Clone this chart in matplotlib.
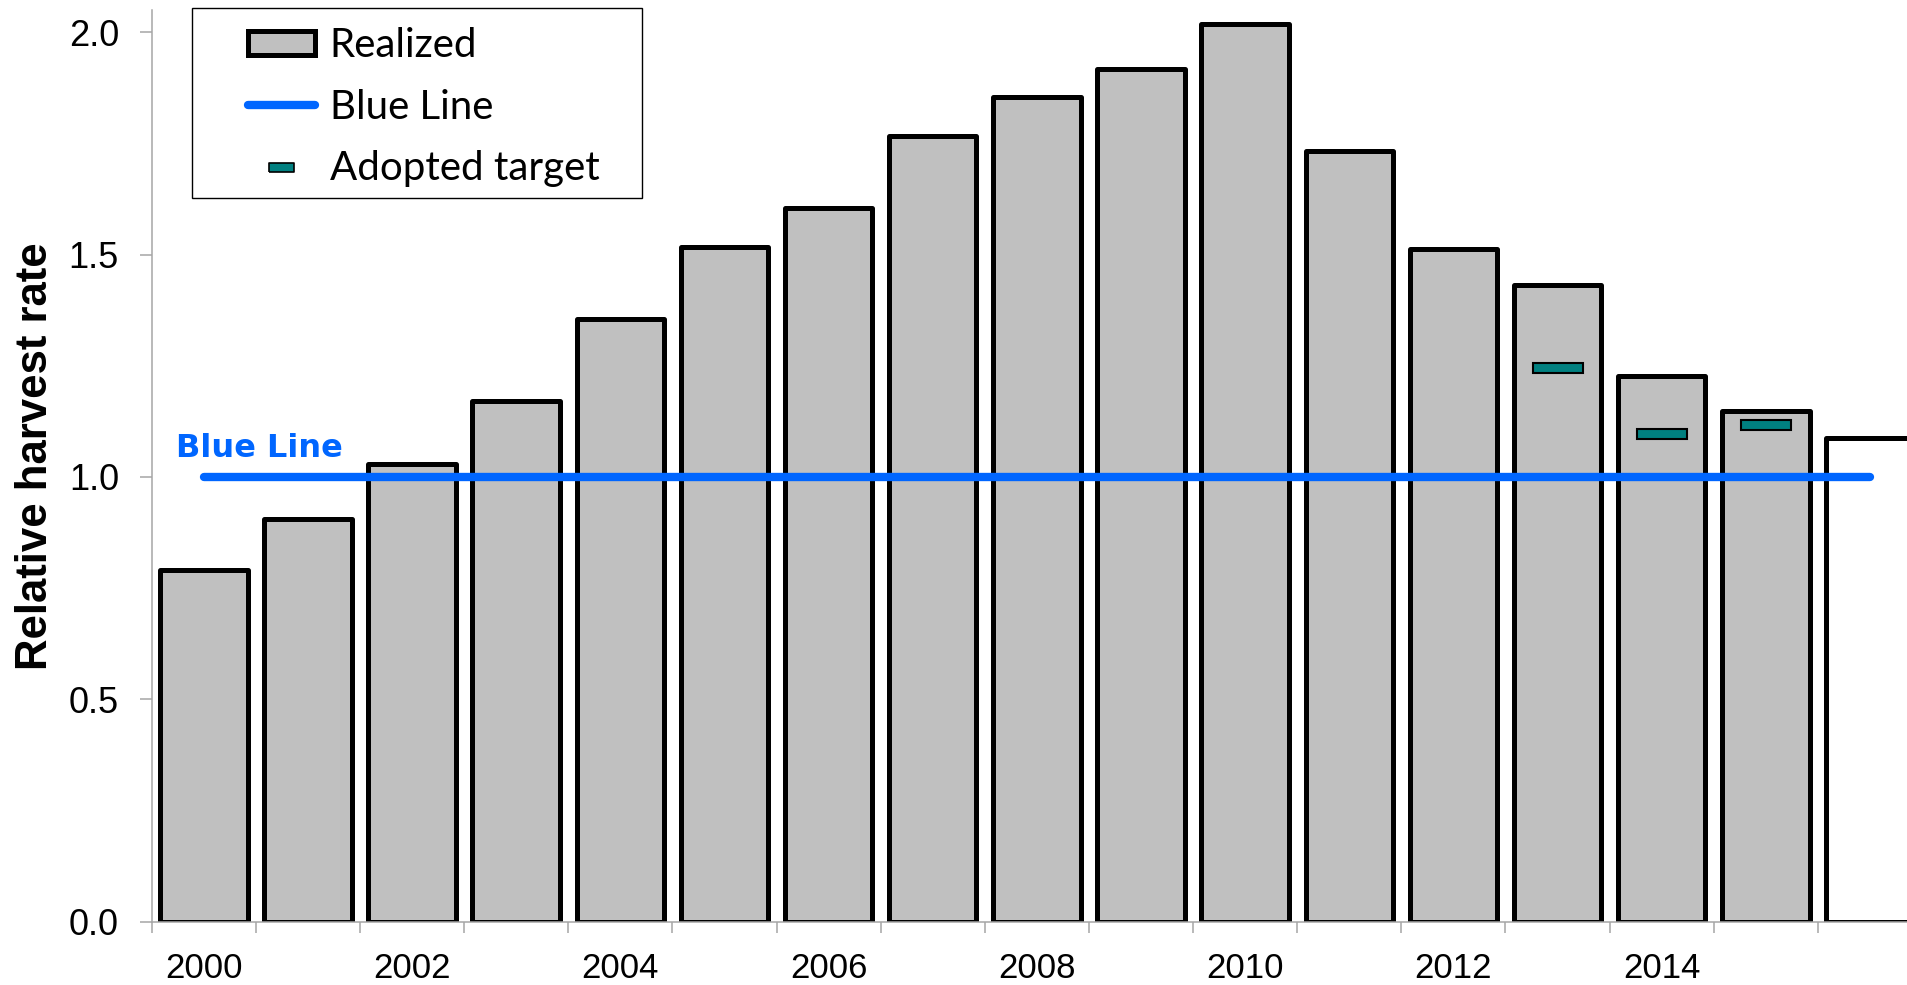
import matplotlib
matplotlib.use("Agg")
import matplotlib.pyplot as plt
from matplotlib.patches import Patch, Rectangle
from matplotlib.lines import Line2D

# relative harvest rate per year (last year still open)
years = list(range(2000, 2017))
realized = [0.79, 0.905, 1.03, 1.17, 1.355, 1.517, 1.605, 1.767, 1.855, 1.917,
            2.019, 1.734, 1.512, 1.432, 1.226, 1.148, 1.088]
open_year = 2016

target_years = [2013, 2014, 2015]
targets = [1.246, 1.097, 1.117]

blue_line = 1.0
label_years = list(range(2000, 2015, 2))

GRAY = "#C0C0C0"
TEAL = "#008080"
BLUE = "#0066FF"
AXIS = "#A6A6A6"

W, H = 1908, 985
fig = plt.figure(figsize=(W / 100, H / 100), dpi=100)
left, right, bottom, top = 151.7, 1922.0, 921.7, 10.0
ax = fig.add_axes([left / W, 1 - bottom / H, (right - left) / W, (bottom - top) / H])

fills = ["white" if y == open_year else GRAY for y in years]
ax.bar(years, realized, width=0.84, color=fills, edgecolor="black",
       linewidth=3.6, joinstyle="round", zorder=2)

ax.plot([years[0], years[-1]], [blue_line, blue_line], color=BLUE, lw=6,
        solid_capstyle="round", zorder=3)
ax.text(1999.73, 1.065, "Blue Line", color=BLUE, fontsize=23,
        fontweight="bold", family="DejaVu Sans", ha="left", va="center")

th = 0.0225
ax.bar(target_years, [th] * len(targets), bottom=[t - th / 2 for t in targets],
       width=0.48, color=TEAL, edgecolor="black", linewidth=1.5, zorder=4)

ax.set_xlim(1999.5, 2016.5)
ax.set_ylim(0, 2.05)

for s in ["top", "right"]:
    ax.spines[s].set_visible(False)
for s in ["left", "bottom"]:
    ax.spines[s].set_color(AXIS)
    ax.spines[s].set_linewidth(1.1)

ax.set_yticks([0, 0.5, 1.0, 1.5, 2.0])
ax.set_yticklabels(["0.0", "0.5", "1.0", "1.5", "2.0"])
ax.tick_params(axis="y", direction="out", length=8.6, width=1.1, color=AXIS,
               pad=15, labelsize=26)
ax.set_xticks([y - 0.5 for y in years] + [2016.5])
ax.set_xticklabels([])
ax.tick_params(axis="x", which="major", direction="out", length=8, width=1.1,
               color=AXIS)
ax.set_xticks(label_years, minor=True)
ax.set_xticklabels([str(y) for y in label_years], minor=True)
ax.tick_params(axis="x", which="minor", length=0, pad=22, labelsize=25)
for lab in ax.get_xticklabels(minor=True) + ax.get_yticklabels():
    lab.set_family("Liberation Sans")

fig.text(36 / W, 1 - 456.5 / H, "Relative harvest rate", rotation=90,
         fontsize=31.5, fontweight="bold", family="Liberation Sans",
         ha="center", va="center")

# legend
handles = [
    Patch(facecolor=GRAY, edgecolor="black", linewidth=3.6),
    Line2D([], [], color=BLUE, lw=6, solid_capstyle="round"),
    Line2D([], [], linestyle="None",
           marker=[(-1, -0.36), (1, -0.36), (1, 0.36), (-1, 0.36), (-1, -0.36)],
           markersize=18, markerfacecolor=TEAL, markeredgecolor="black",
           markeredgewidth=1.2),
]
fig.legend(handles, ["Realized", "Blue Line", "Adopted target"],
           loc="upper left", bbox_to_anchor=(248 / W, 1 - 27 / H),
           frameon=False, borderpad=0, borderaxespad=0,
           handlelength=1.66, handleheight=0.55, handletextpad=0.37,
           labelspacing=0.61, prop={"family": "Lato", "size": 29})
fig.patches.append(Rectangle((192.5 / W, 1 - 198 / H), (642 - 192.5) / W,
                             (198 - 8.3) / H, transform=fig.transFigure,
                             facecolor="none", edgecolor="black", lw=1))

fig.savefig("out.png", dpi=100)
